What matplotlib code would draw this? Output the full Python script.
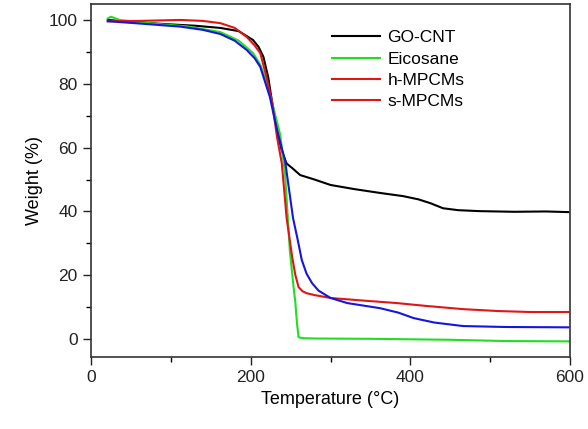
import matplotlib
matplotlib.use("Agg")
import matplotlib.pyplot as plt
from matplotlib.lines import Line2D
from matplotlib.ticker import MultipleLocator

plt.rcParams['font.family'] = ['Liberation Sans', 'DejaVu Sans']

# GO-CNT
t_go = [21, 60, 100, 130, 162, 185, 203, 210, 216, 222, 227, 233, 239, 245, 252, 262, 280, 300, 330, 362, 391, 410, 425, 441, 460, 487, 530, 570, 598]
w_go = [100, 99.2, 98.6, 98.2, 97.5, 96.5, 93.7, 91.5, 88.4, 82, 74, 65.5, 59, 55, 53.6, 51.4, 50.0, 48.3, 47, 45.8, 44.8, 43.8, 42.6, 41, 40.4, 40.1, 39.9, 40.0, 39.8]

# Eicosane
t_ei = [21, 25, 36, 80, 120, 162, 185, 203, 212, 218, 227, 237, 243, 249, 253, 256, 258, 260, 265, 280, 350, 450, 520, 600]
w_ei = [100.5, 101, 100, 98.8, 98.0, 96.2, 93.5, 89.6, 86.0, 82, 74, 64, 52, 27.9, 18, 11.3, 5, 0.6, 0.3, 0.2, 0.1, -0.2, -0.6, -0.7]

# h-MPCMs
t_h = [21, 60, 112, 140, 162, 180, 195, 205, 212, 220, 227, 233, 239, 245, 252, 256, 260, 265, 270, 280, 300, 340, 383, 420, 466, 510, 550, 598]
w_h = [99.6, 99.7, 100, 99.7, 99.0, 97.5, 94.7, 92.0, 89.6, 82, 74, 63.3, 55, 38, 25.7, 20, 16.3, 15.0, 14.4, 13.8, 12.9, 12.1, 11.3, 10.4, 9.4, 8.8, 8.5, 8.5]

# s-MPCMs
t_s = [21, 60, 112, 140, 162, 180, 195, 205, 212, 224, 233, 243, 248, 253, 259, 264, 270, 277, 285, 300, 321, 362, 385, 404, 430, 466, 520, 598]
w_s = [99.6, 98.9, 97.9, 96.9, 95.6, 93.5, 90.6, 88, 85.3, 75.9, 65.5, 56, 47, 38, 31, 24.8, 20.5, 17.5, 15.2, 12.9, 11.3, 9.7, 8.3, 6.6, 5.2, 4.1, 3.8, 3.7]

legend_labels = ["GO-CNT", "Eicosane", "h-MPCMs", "s-MPCMs"]
legend_colors = ["#000000", "#22dd22", "#e01515", "#e01515"]

fig = plt.figure(figsize=(5.88, 4.29), dpi=100)
ax = fig.add_axes([0.1548, 0.1678, 0.8146, 0.8229])

ax.plot(t_go, w_go, color="#000000", lw=1.5)
ax.plot(t_ei, w_ei, color="#22dd22", lw=1.5)
ax.plot(t_h, w_h, color="#e01515", lw=1.5)
ax.plot(t_s, w_s, color="#1515dd", lw=1.5)

ax.set_xlim(0, 600)
ax.set_ylim(-5.6, 105)
ax.xaxis.set_major_locator(MultipleLocator(200))
ax.xaxis.set_minor_locator(MultipleLocator(100))
ax.yaxis.set_major_locator(MultipleLocator(20))
ax.yaxis.set_minor_locator(MultipleLocator(10))
ax.tick_params(which='major', direction='out', length=6, width=1, labelsize=12.5, colors='#222222')
ax.tick_params(which='minor', direction='out', length=3.5, width=1)
for s in ax.spines.values():
    s.set_linewidth(1.2)
    s.set_color('#333333')

ax.set_xlabel("Temperature (°C)", fontsize=13)
ax.set_ylabel("Weight (%)", fontsize=13)

handles = [Line2D([], [], color=c, lw=1.5) for c in legend_colors]
ax.legend(handles, legend_labels, loc='upper left', bbox_to_anchor=(0.47, 0.97),
          frameon=False, fontsize=12.5, handlelength=2.8, handletextpad=0.4,
          labelspacing=0.35)

fig.savefig("out.png", dpi=100)
